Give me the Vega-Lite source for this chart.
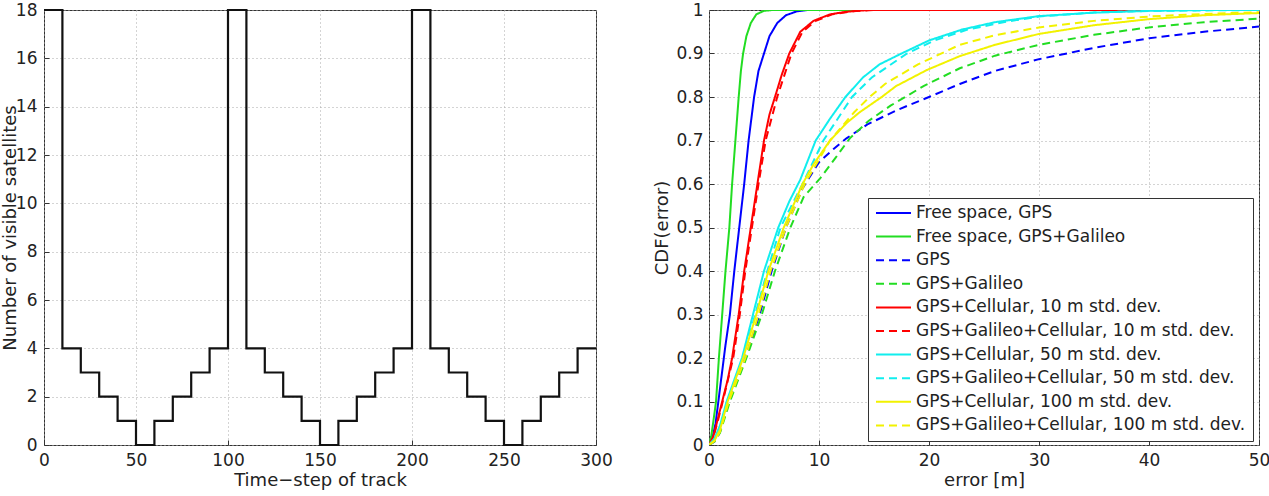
{
  "$schema": "https://vega.github.io/schema/vega-lite/v6.json",
  "padding": {"left": 0, "top": 0, "right": 0, "bottom": 0},
  "spacing": 40,
  "config": {
    "font": "DejaVu Sans",
    "view": {"stroke": "#333", "strokeWidth": 1},
    "axis": {
      "labelFont": "DejaVu Sans", "labelFontSize": 17, "labelColor": "#222", "labelFlush": false,
      "titleFont": "DejaVu Sans", "titleFontSize": 18, "titleFontWeight": "normal", "titleColor": "#222",
      "domain": false, "ticks": true, "tickColor": "#333", "tickSize": -5,
      "grid": true, "gridColor": "#a8a8a8", "gridDash": [1, 3], "gridWidth": 1
    },
    "axisX": {"labelPadding": 12, "titlePadding": 3},
    "axisY": {"labelPadding": 12, "titlePadding": -4}
  },
  "datasets": {
    "sats": [
      {"t": 0, "n": 18}, {"t": 10, "n": 4}, {"t": 20, "n": 3}, {"t": 30, "n": 2}, {"t": 40, "n": 1},
      {"t": 50, "n": 0}, {"t": 60, "n": 1}, {"t": 70, "n": 2}, {"t": 80, "n": 3}, {"t": 90, "n": 4},
      {"t": 100, "n": 18}, {"t": 110, "n": 4}, {"t": 120, "n": 3}, {"t": 130, "n": 2}, {"t": 140, "n": 1},
      {"t": 150, "n": 0}, {"t": 160, "n": 1}, {"t": 170, "n": 2}, {"t": 180, "n": 3}, {"t": 190, "n": 4},
      {"t": 200, "n": 18}, {"t": 210, "n": 4}, {"t": 220, "n": 3}, {"t": 230, "n": 2}, {"t": 240, "n": 1},
      {"t": 250, "n": 0}, {"t": 260, "n": 1}, {"t": 270, "n": 2}, {"t": 280, "n": 3}, {"t": 290, "n": 4},
      {"t": 300, "n": 4}
    ],
    "cdf": [
      {"s": "Free space, GPS", "e": 0, "c": 0}, {"s": "Free space, GPS", "e": 0.3, "c": 0.015}, {"s": "Free space, GPS", "e": 0.6, "c": 0.05}, {"s": "Free space, GPS", "e": 0.9, "c": 0.11}, {"s": "Free space, GPS", "e": 1.2, "c": 0.17}, {"s": "Free space, GPS", "e": 1.5, "c": 0.23}, {"s": "Free space, GPS", "e": 1.9, "c": 0.3}, {"s": "Free space, GPS", "e": 2.3, "c": 0.4}, {"s": "Free space, GPS", "e": 2.75, "c": 0.5}, {"s": "Free space, GPS", "e": 3.2, "c": 0.6}, {"s": "Free space, GPS", "e": 3.6, "c": 0.7}, {"s": "Free space, GPS", "e": 4.1, "c": 0.8}, {"s": "Free space, GPS", "e": 4.5, "c": 0.86}, {"s": "Free space, GPS", "e": 5.0, "c": 0.9}, {"s": "Free space, GPS", "e": 5.5, "c": 0.94}, {"s": "Free space, GPS", "e": 6.2, "c": 0.97}, {"s": "Free space, GPS", "e": 7, "c": 0.988}, {"s": "Free space, GPS", "e": 8, "c": 0.997}, {"s": "Free space, GPS", "e": 9, "c": 1}, {"s": "Free space, GPS", "e": 50, "c": 1},

      {"s": "Free space, GPS+Galileo", "e": 0, "c": 0}, {"s": "Free space, GPS+Galileo", "e": 0.2, "c": 0.02}, {"s": "Free space, GPS+Galileo", "e": 0.4, "c": 0.055}, {"s": "Free space, GPS+Galileo", "e": 0.64, "c": 0.1}, {"s": "Free space, GPS+Galileo", "e": 0.9, "c": 0.2}, {"s": "Free space, GPS+Galileo", "e": 1.2, "c": 0.3}, {"s": "Free space, GPS+Galileo", "e": 1.5, "c": 0.4}, {"s": "Free space, GPS+Galileo", "e": 1.85, "c": 0.5}, {"s": "Free space, GPS+Galileo", "e": 2.1, "c": 0.6}, {"s": "Free space, GPS+Galileo", "e": 2.4, "c": 0.7}, {"s": "Free space, GPS+Galileo", "e": 2.7, "c": 0.8}, {"s": "Free space, GPS+Galileo", "e": 2.9, "c": 0.86}, {"s": "Free space, GPS+Galileo", "e": 3.1, "c": 0.9}, {"s": "Free space, GPS+Galileo", "e": 3.4, "c": 0.94}, {"s": "Free space, GPS+Galileo", "e": 3.8, "c": 0.97}, {"s": "Free space, GPS+Galileo", "e": 4.3, "c": 0.99}, {"s": "Free space, GPS+Galileo", "e": 5, "c": 0.998}, {"s": "Free space, GPS+Galileo", "e": 5.8, "c": 1}, {"s": "Free space, GPS+Galileo", "e": 50, "c": 1},

      {"s": "GPS", "e": 0, "c": 0}, {"s": "GPS", "e": 0.5, "c": 0.008}, {"s": "GPS", "e": 1, "c": 0.03}, {"s": "GPS", "e": 1.8, "c": 0.1}, {"s": "GPS", "e": 3.3, "c": 0.2}, {"s": "GPS", "e": 4.6, "c": 0.3}, {"s": "GPS", "e": 5.7, "c": 0.4}, {"s": "GPS", "e": 7.0, "c": 0.5}, {"s": "GPS", "e": 8.5, "c": 0.59}, {"s": "GPS", "e": 10, "c": 0.65}, {"s": "GPS", "e": 11.3, "c": 0.68}, {"s": "GPS", "e": 12.5, "c": 0.705}, {"s": "GPS", "e": 14.4, "c": 0.737}, {"s": "GPS", "e": 17.1, "c": 0.77}, {"s": "GPS", "e": 20, "c": 0.8}, {"s": "GPS", "e": 22.8, "c": 0.83}, {"s": "GPS", "e": 26, "c": 0.86}, {"s": "GPS", "e": 30, "c": 0.887}, {"s": "GPS", "e": 35, "c": 0.913}, {"s": "GPS", "e": 40, "c": 0.935}, {"s": "GPS", "e": 45, "c": 0.95}, {"s": "GPS", "e": 50, "c": 0.962},

      {"s": "GPS+Galileo", "e": 0, "c": 0}, {"s": "GPS+Galileo", "e": 0.5, "c": 0.008}, {"s": "GPS+Galileo", "e": 1, "c": 0.028}, {"s": "GPS+Galileo", "e": 1.9, "c": 0.1}, {"s": "GPS+Galileo", "e": 3.4, "c": 0.2}, {"s": "GPS+Galileo", "e": 4.8, "c": 0.3}, {"s": "GPS+Galileo", "e": 6, "c": 0.4}, {"s": "GPS+Galileo", "e": 7.4, "c": 0.5}, {"s": "GPS+Galileo", "e": 8.6, "c": 0.57}, {"s": "GPS+Galileo", "e": 10.1, "c": 0.613}, {"s": "GPS+Galileo", "e": 11.5, "c": 0.66}, {"s": "GPS+Galileo", "e": 12.8, "c": 0.705}, {"s": "GPS+Galileo", "e": 14.5, "c": 0.745}, {"s": "GPS+Galileo", "e": 16.5, "c": 0.78}, {"s": "GPS+Galileo", "e": 19.5, "c": 0.825}, {"s": "GPS+Galileo", "e": 22.8, "c": 0.866}, {"s": "GPS+Galileo", "e": 26, "c": 0.895}, {"s": "GPS+Galileo", "e": 30, "c": 0.92}, {"s": "GPS+Galileo", "e": 35, "c": 0.943}, {"s": "GPS+Galileo", "e": 40, "c": 0.96}, {"s": "GPS+Galileo", "e": 45, "c": 0.972}, {"s": "GPS+Galileo", "e": 50, "c": 0.98},

      {"s": "GPS+Cellular, 10 m std. dev.", "e": 0, "c": 0}, {"s": "GPS+Cellular, 10 m std. dev.", "e": 0.4, "c": 0.02}, {"s": "GPS+Cellular, 10 m std. dev.", "e": 0.8, "c": 0.06}, {"s": "GPS+Cellular, 10 m std. dev.", "e": 1.2, "c": 0.1}, {"s": "GPS+Cellular, 10 m std. dev.", "e": 1.7, "c": 0.15}, {"s": "GPS+Cellular, 10 m std. dev.", "e": 2.1, "c": 0.2}, {"s": "GPS+Cellular, 10 m std. dev.", "e": 2.7, "c": 0.3}, {"s": "GPS+Cellular, 10 m std. dev.", "e": 3.2, "c": 0.4}, {"s": "GPS+Cellular, 10 m std. dev.", "e": 3.8, "c": 0.5}, {"s": "GPS+Cellular, 10 m std. dev.", "e": 4.4, "c": 0.6}, {"s": "GPS+Cellular, 10 m std. dev.", "e": 5.0, "c": 0.7}, {"s": "GPS+Cellular, 10 m std. dev.", "e": 5.5, "c": 0.76}, {"s": "GPS+Cellular, 10 m std. dev.", "e": 6.0, "c": 0.8}, {"s": "GPS+Cellular, 10 m std. dev.", "e": 6.6, "c": 0.85}, {"s": "GPS+Cellular, 10 m std. dev.", "e": 7.3, "c": 0.9}, {"s": "GPS+Cellular, 10 m std. dev.", "e": 8.3, "c": 0.95}, {"s": "GPS+Cellular, 10 m std. dev.", "e": 9.5, "c": 0.975}, {"s": "GPS+Cellular, 10 m std. dev.", "e": 11, "c": 0.99}, {"s": "GPS+Cellular, 10 m std. dev.", "e": 12.5, "c": 0.996}, {"s": "GPS+Cellular, 10 m std. dev.", "e": 14.5, "c": 1}, {"s": "GPS+Cellular, 10 m std. dev.", "e": 50, "c": 1},

      {"s": "GPS+Galileo+Cellular, 10 m std. dev.", "e": 0, "c": 0}, {"s": "GPS+Galileo+Cellular, 10 m std. dev.", "e": 0.4, "c": 0.018}, {"s": "GPS+Galileo+Cellular, 10 m std. dev.", "e": 0.8, "c": 0.055}, {"s": "GPS+Galileo+Cellular, 10 m std. dev.", "e": 1.25, "c": 0.1}, {"s": "GPS+Galileo+Cellular, 10 m std. dev.", "e": 2.2, "c": 0.2}, {"s": "GPS+Galileo+Cellular, 10 m std. dev.", "e": 2.8, "c": 0.3}, {"s": "GPS+Galileo+Cellular, 10 m std. dev.", "e": 3.3, "c": 0.4}, {"s": "GPS+Galileo+Cellular, 10 m std. dev.", "e": 3.9, "c": 0.5}, {"s": "GPS+Galileo+Cellular, 10 m std. dev.", "e": 4.5, "c": 0.6}, {"s": "GPS+Galileo+Cellular, 10 m std. dev.", "e": 5.15, "c": 0.7}, {"s": "GPS+Galileo+Cellular, 10 m std. dev.", "e": 6.2, "c": 0.8}, {"s": "GPS+Galileo+Cellular, 10 m std. dev.", "e": 7.5, "c": 0.9}, {"s": "GPS+Galileo+Cellular, 10 m std. dev.", "e": 8.5, "c": 0.95}, {"s": "GPS+Galileo+Cellular, 10 m std. dev.", "e": 9.7, "c": 0.975}, {"s": "GPS+Galileo+Cellular, 10 m std. dev.", "e": 11.2, "c": 0.99}, {"s": "GPS+Galileo+Cellular, 10 m std. dev.", "e": 13, "c": 0.997}, {"s": "GPS+Galileo+Cellular, 10 m std. dev.", "e": 15, "c": 1}, {"s": "GPS+Galileo+Cellular, 10 m std. dev.", "e": 50, "c": 1},

      {"s": "GPS+Cellular, 50 m std. dev.", "e": 0, "c": 0}, {"s": "GPS+Cellular, 50 m std. dev.", "e": 0.5, "c": 0.015}, {"s": "GPS+Cellular, 50 m std. dev.", "e": 1.0, "c": 0.045}, {"s": "GPS+Cellular, 50 m std. dev.", "e": 1.6, "c": 0.1}, {"s": "GPS+Cellular, 50 m std. dev.", "e": 2.3, "c": 0.15}, {"s": "GPS+Cellular, 50 m std. dev.", "e": 3.0, "c": 0.2}, {"s": "GPS+Cellular, 50 m std. dev.", "e": 4.0, "c": 0.3}, {"s": "GPS+Cellular, 50 m std. dev.", "e": 5.0, "c": 0.4}, {"s": "GPS+Cellular, 50 m std. dev.", "e": 6.3, "c": 0.5}, {"s": "GPS+Cellular, 50 m std. dev.", "e": 7.3, "c": 0.56}, {"s": "GPS+Cellular, 50 m std. dev.", "e": 8.3, "c": 0.61}, {"s": "GPS+Cellular, 50 m std. dev.", "e": 9.7, "c": 0.7}, {"s": "GPS+Cellular, 50 m std. dev.", "e": 11, "c": 0.75}, {"s": "GPS+Cellular, 50 m std. dev.", "e": 12.4, "c": 0.8}, {"s": "GPS+Cellular, 50 m std. dev.", "e": 14, "c": 0.845}, {"s": "GPS+Cellular, 50 m std. dev.", "e": 15.5, "c": 0.875}, {"s": "GPS+Cellular, 50 m std. dev.", "e": 17.5, "c": 0.9}, {"s": "GPS+Cellular, 50 m std. dev.", "e": 20, "c": 0.93}, {"s": "GPS+Cellular, 50 m std. dev.", "e": 23, "c": 0.955}, {"s": "GPS+Cellular, 50 m std. dev.", "e": 26, "c": 0.972}, {"s": "GPS+Cellular, 50 m std. dev.", "e": 30, "c": 0.986}, {"s": "GPS+Cellular, 50 m std. dev.", "e": 35, "c": 0.994}, {"s": "GPS+Cellular, 50 m std. dev.", "e": 40, "c": 0.998}, {"s": "GPS+Cellular, 50 m std. dev.", "e": 45, "c": 1}, {"s": "GPS+Cellular, 50 m std. dev.", "e": 50, "c": 1},

      {"s": "GPS+Galileo+Cellular, 50 m std. dev.", "e": 0, "c": 0}, {"s": "GPS+Galileo+Cellular, 50 m std. dev.", "e": 0.5, "c": 0.013}, {"s": "GPS+Galileo+Cellular, 50 m std. dev.", "e": 1.0, "c": 0.04}, {"s": "GPS+Galileo+Cellular, 50 m std. dev.", "e": 1.7, "c": 0.1}, {"s": "GPS+Galileo+Cellular, 50 m std. dev.", "e": 3.1, "c": 0.2}, {"s": "GPS+Galileo+Cellular, 50 m std. dev.", "e": 4.2, "c": 0.3}, {"s": "GPS+Galileo+Cellular, 50 m std. dev.", "e": 5.3, "c": 0.4}, {"s": "GPS+Galileo+Cellular, 50 m std. dev.", "e": 6.5, "c": 0.5}, {"s": "GPS+Galileo+Cellular, 50 m std. dev.", "e": 8.5, "c": 0.6}, {"s": "GPS+Galileo+Cellular, 50 m std. dev.", "e": 10.4, "c": 0.7}, {"s": "GPS+Galileo+Cellular, 50 m std. dev.", "e": 13, "c": 0.8}, {"s": "GPS+Galileo+Cellular, 50 m std. dev.", "e": 14.8, "c": 0.845}, {"s": "GPS+Galileo+Cellular, 50 m std. dev.", "e": 18, "c": 0.9}, {"s": "GPS+Galileo+Cellular, 50 m std. dev.", "e": 20.5, "c": 0.93}, {"s": "GPS+Galileo+Cellular, 50 m std. dev.", "e": 23.5, "c": 0.955}, {"s": "GPS+Galileo+Cellular, 50 m std. dev.", "e": 27, "c": 0.973}, {"s": "GPS+Galileo+Cellular, 50 m std. dev.", "e": 30, "c": 0.985}, {"s": "GPS+Galileo+Cellular, 50 m std. dev.", "e": 35, "c": 0.994}, {"s": "GPS+Galileo+Cellular, 50 m std. dev.", "e": 40, "c": 0.998}, {"s": "GPS+Galileo+Cellular, 50 m std. dev.", "e": 50, "c": 1},

      {"s": "GPS+Cellular, 100 m std. dev.", "e": 0, "c": 0}, {"s": "GPS+Cellular, 100 m std. dev.", "e": 0.5, "c": 0.01}, {"s": "GPS+Cellular, 100 m std. dev.", "e": 1.0, "c": 0.035}, {"s": "GPS+Cellular, 100 m std. dev.", "e": 1.7, "c": 0.1}, {"s": "GPS+Cellular, 100 m std. dev.", "e": 3.1, "c": 0.2}, {"s": "GPS+Cellular, 100 m std. dev.", "e": 4.3, "c": 0.3}, {"s": "GPS+Cellular, 100 m std. dev.", "e": 5.4, "c": 0.4}, {"s": "GPS+Cellular, 100 m std. dev.", "e": 6.8, "c": 0.5}, {"s": "GPS+Cellular, 100 m std. dev.", "e": 8.5, "c": 0.6}, {"s": "GPS+Cellular, 100 m std. dev.", "e": 9.5, "c": 0.645}, {"s": "GPS+Cellular, 100 m std. dev.", "e": 11, "c": 0.7}, {"s": "GPS+Cellular, 100 m std. dev.", "e": 12.5, "c": 0.74}, {"s": "GPS+Cellular, 100 m std. dev.", "e": 13.7, "c": 0.765}, {"s": "GPS+Cellular, 100 m std. dev.", "e": 15.7, "c": 0.8}, {"s": "GPS+Cellular, 100 m std. dev.", "e": 17, "c": 0.825}, {"s": "GPS+Cellular, 100 m std. dev.", "e": 19.8, "c": 0.862}, {"s": "GPS+Cellular, 100 m std. dev.", "e": 22.8, "c": 0.894}, {"s": "GPS+Cellular, 100 m std. dev.", "e": 26, "c": 0.92}, {"s": "GPS+Cellular, 100 m std. dev.", "e": 30, "c": 0.945}, {"s": "GPS+Cellular, 100 m std. dev.", "e": 35, "c": 0.965}, {"s": "GPS+Cellular, 100 m std. dev.", "e": 40, "c": 0.979}, {"s": "GPS+Cellular, 100 m std. dev.", "e": 45, "c": 0.988}, {"s": "GPS+Cellular, 100 m std. dev.", "e": 50, "c": 0.993},

      {"s": "GPS+Galileo+Cellular, 100 m std. dev.", "e": 0, "c": 0}, {"s": "GPS+Galileo+Cellular, 100 m std. dev.", "e": 0.5, "c": 0.009}, {"s": "GPS+Galileo+Cellular, 100 m std. dev.", "e": 1.0, "c": 0.03}, {"s": "GPS+Galileo+Cellular, 100 m std. dev.", "e": 1.8, "c": 0.1}, {"s": "GPS+Galileo+Cellular, 100 m std. dev.", "e": 3.3, "c": 0.2}, {"s": "GPS+Galileo+Cellular, 100 m std. dev.", "e": 4.5, "c": 0.3}, {"s": "GPS+Galileo+Cellular, 100 m std. dev.", "e": 5.6, "c": 0.4}, {"s": "GPS+Galileo+Cellular, 100 m std. dev.", "e": 7.0, "c": 0.5}, {"s": "GPS+Galileo+Cellular, 100 m std. dev.", "e": 8.7, "c": 0.6}, {"s": "GPS+Galileo+Cellular, 100 m std. dev.", "e": 11, "c": 0.7}, {"s": "GPS+Galileo+Cellular, 100 m std. dev.", "e": 13.2, "c": 0.765}, {"s": "GPS+Galileo+Cellular, 100 m std. dev.", "e": 14.6, "c": 0.8}, {"s": "GPS+Galileo+Cellular, 100 m std. dev.", "e": 16, "c": 0.83}, {"s": "GPS+Galileo+Cellular, 100 m std. dev.", "e": 19, "c": 0.875}, {"s": "GPS+Galileo+Cellular, 100 m std. dev.", "e": 22.8, "c": 0.92}, {"s": "GPS+Galileo+Cellular, 100 m std. dev.", "e": 26, "c": 0.942}, {"s": "GPS+Galileo+Cellular, 100 m std. dev.", "e": 30, "c": 0.96}, {"s": "GPS+Galileo+Cellular, 100 m std. dev.", "e": 35, "c": 0.975}, {"s": "GPS+Galileo+Cellular, 100 m std. dev.", "e": 40, "c": 0.985}, {"s": "GPS+Galileo+Cellular, 100 m std. dev.", "e": 45, "c": 0.991}, {"s": "GPS+Galileo+Cellular, 100 m std. dev.", "e": 50, "c": 0.995}
    ]
  },
  "hconcat": [
    {
      "width": 552,
      "height": 435,
      "data": {"name": "sats"},
      "mark": {"type": "line", "interpolate": "step-after", "color": "#111", "strokeWidth": 2.2},
      "encoding": {
        "x": {"field": "t", "type": "quantitative", "scale": {"domain": [0, 300], "nice": false},
              "axis": {"values": [0, 50, 100, 150, 200, 250, 300], "title": "Time\u2212step of track"}},
        "y": {"field": "n", "type": "quantitative", "scale": {"domain": [0, 18], "nice": false},
              "axis": {"values": [0, 2, 4, 6, 8, 10, 12, 14, 16, 18], "title": "Number of visible satellites"}}
      }
    },
    {
      "width": 550,
      "height": 435,
      "data": {"name": "cdf"},
      "mark": {"type": "line", "strokeWidth": 2, "clip": true},
      "encoding": {
        "x": {"field": "e", "type": "quantitative", "scale": {"domain": [0, 50], "nice": false},
              "axis": {"values": [0, 10, 20, 30, 40, 50], "title": "error [m]"}},
        "y": {"field": "c", "type": "quantitative", "scale": {"domain": [0, 1], "nice": false},
              "axis": {"values": [0, 0.1, 0.2, 0.3, 0.4, 0.5, 0.6, 0.7, 0.8, 0.9, 1], "format": "~g", "title": "CDF(error)", "titlePadding": 4, "labelPadding": 11}},
        "color": {
          "field": "s", "type": "nominal",
          "scale": {
            "domain": ["Free space, GPS", "Free space, GPS+Galileo", "GPS", "GPS+Galileo", "GPS+Cellular, 10 m std. dev.", "GPS+Galileo+Cellular, 10 m std. dev.", "GPS+Cellular, 50 m std. dev.", "GPS+Galileo+Cellular, 50 m std. dev.", "GPS+Cellular, 100 m std. dev.", "GPS+Galileo+Cellular, 100 m std. dev."],
            "range": ["#0000ff", "#22dd22", "#0000ff", "#22dd22", "#ff0000", "#ff0000", "#11eeee", "#11eeee", "#f2f200", "#f2f200"]
          },
          "legend": {
            "title": null, "orient": "none", "legendX": 824, "legendY": 188,
            "symbolType": "stroke", "symbolSize": 1225, "symbolStrokeWidth": 2,
            "labelFont": "DejaVu Sans", "labelFontSize": 17, "labelColor": "#222", "labelLimit": 600, "labelOffset": 4,
            "clipHeight": 16, "rowPadding": 6.6, "padding": 7,
            "strokeColor": "#333", "fillColor": "white", "cornerRadius": 0
          }
        },
        "strokeDash": {
          "field": "s", "type": "nominal",
          "scale": {
            "domain": ["Free space, GPS", "Free space, GPS+Galileo", "GPS", "GPS+Galileo", "GPS+Cellular, 10 m std. dev.", "GPS+Galileo+Cellular, 10 m std. dev.", "GPS+Cellular, 50 m std. dev.", "GPS+Galileo+Cellular, 50 m std. dev.", "GPS+Cellular, 100 m std. dev.", "GPS+Galileo+Cellular, 100 m std. dev."],
            "range": [[1, 0], [1, 0], [8, 5], [8, 5], [1, 0], [8, 5], [1, 0], [8, 5], [1, 0], [8, 5]]
          },
          "legend": {
            "title": null, "orient": "none", "legendX": 824, "legendY": 188,
            "symbolType": "stroke", "symbolSize": 1225, "symbolStrokeWidth": 2,
            "labelFont": "DejaVu Sans", "labelFontSize": 17, "labelColor": "#222", "labelLimit": 600, "labelOffset": 4,
            "clipHeight": 16, "rowPadding": 6.6, "padding": 7,
            "strokeColor": "#333", "fillColor": "white", "cornerRadius": 0
          }
        }
      }
    }
  ]
}
